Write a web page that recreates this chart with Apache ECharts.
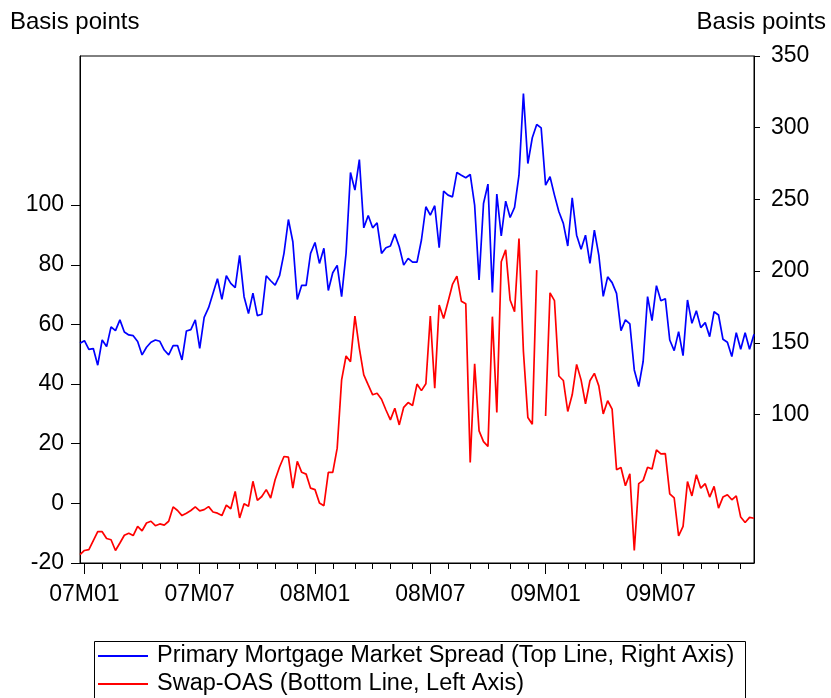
<!DOCTYPE html>
<html>
<head>
<meta charset="utf-8">
<script src="https://cdn.jsdelivr.net/npm/echarts@6/dist/echarts.min.js"></script>
<style>
  html, body { margin: 0; padding: 0; background: #fff; }
  #chart { width: 831px; height: 698px; }
</style>
</head>
<body>
<div id="chart"></div>
<script>
// weekly observations, first one is the last Friday of 2006
var startDate = Date.UTC(2006, 11, 29);
var weekCount = 153;

// Primary mortgage market spread (right axis, basis points)
var spreadValues = [149.7,151.5,145.5,146.0,134.4,152.0,147.4,161.1,158.5,166.0,
157.6,155.5,155.0,150.9,141.6,146.9,150.4,152.0,151.1,145.0,
141.6,148.1,148.1,138.1,158.3,159.2,166.0,146.2,167.8,174.5,
184.5,194.7,180.3,196.8,191.5,188.5,211.0,182.2,170.4,184.7,
169.0,169.9,196.8,193.3,190.3,196.8,212.4,236.0,220.5,180.3,
190.1,190.1,212.4,220.0,205.4,215.9,186.5,198.9,204.0,182.2,
212.4,268.8,256.5,277.8,230.2,238.8,230.2,233.7,212.4,216.3,
217.5,225.8,217.0,204.2,208.9,206.3,206.3,221.7,244.9,239.1,
245.6,216.3,255.8,253.0,251.8,268.8,266.9,265.1,267.4,246.0,
193.8,247.2,260.7,185.2,253.7,224.5,248.8,237.4,244.4,266.9,
323.8,275.0,293.0,302.2,299.9,260.0,265.8,253.0,241.4,233.3,
217.5,251.1,225.1,215.2,225.1,205.4,228.6,211.2,182.4,196.0,
192.0,184.5,158.5,166.0,163.2,131.1,119.5,137.0,182.2,165.5,
189.9,179.4,180.8,152.0,144.6,157.8,141.1,179.9,163.6,172.4,
160.6,164.1,154.3,171.7,169.4,152.5,150.4,140.4,157.1,145.5,
157.1,145.5,156.0];

// Swap-OAS (left axis, basis points), null = missing week
var oasValues = [-17.2,-15.8,-15.5,-12.5,-9.5,-9.5,-11.8,-12.2,-15.8,-13.3,
-10.7,-10.0,-10.8,-7.7,-9.2,-6.6,-6.0,-7.5,-6.9,-7.3,
-6.0,-1.2,-2.4,-4.1,-3.3,-2.4,-1.2,-2.5,-2.1,-1.1,
-2.9,-3.3,-4.1,-0.6,-1.8,4.0,-4.9,-0.1,-1.0,7.4,
1.0,2.3,4.6,1.8,7.9,12.2,15.7,15.5,5.1,14.1,
10.4,9.8,5.1,4.6,0.1,-0.8,10.4,10.4,18.5,41.4,
49.4,47.5,62.8,52.0,43.1,39.7,36.4,36.9,34.9,31.3,
28.0,31.9,26.3,32.2,33.8,32.8,40.0,37.8,40.1,62.8,
38.6,66.5,62.0,67.6,73.4,76.2,67.8,66.9,13.7,46.8,
24.3,20.7,19.1,62.6,30.5,81.0,85.0,68.2,64.3,88.8,
50.9,28.8,26.5,78.2,null,29.3,70.6,68.0,42.7,41.2,
30.8,36.4,46.6,41.4,33.4,41.1,43.6,39.4,30.0,34.4,
31.6,11.3,12.0,5.9,9.9,-15.8,6.6,7.7,12.1,11.5,
17.9,16.6,16.7,3.2,1.8,-10.9,-7.7,7.3,2.5,9.6,
5.1,6.6,2.1,5.7,-1.6,2.1,2.9,1.2,2.5,-4.6,
-6.4,-4.7,-5.0];

var leftTicks = [-20, 0, 20, 40, 60, 80, 100];
var rightTicks = [100, 150, 200, 250, 300, 350];
var seriesNames = ['Primary Mortgage Market Spread (Top Line, Right Axis)', 'Swap-OAS (Bottom Line, Left Axis)'];

var weeks = [];
for (var i = 0; i < weekCount; i++) {
    weeks.push(new Date(startDate + i * 7 * 86400000));
}
var categories = weeks.map(function(d) {
    return d.toISOString().slice(0, 10);
});

// first week of a month -> minor tick, first week of Jan / Jul -> label
var isMonthStart = function(idx) {
    return weeks[idx].getUTCDate() <= 7;
};
var isHalfYear = function(idx) {
    var m = weeks[idx].getUTCMonth();
    return isMonthStart(idx) && (m === 0 || m === 6);
};

var fontFam = '"Liberation Sans", Arial, sans-serif';
var myChart = echarts.init(document.getElementById('chart'), null, { renderer: 'canvas' });

// one legend per row, the box around them is drawn as a graphic
var legendRow = function(name, top) {
    return {
        orient: 'horizontal',
        left: 98, top: top,
        padding: 0,
        itemWidth: 50,
        itemHeight: 2,
        icon: 'rect',
        textStyle: { fontSize: 23.5, fontFamily: fontFam, color: '#000', padding: [0, 0, 0, 4] },
        data: [name]
    };
};

var option = {
    backgroundColor: '#fff',
    animation: false,
    textStyle: { fontFamily: fontFam, color: '#000' },
    grid: {
        left: 80, right: 77, top: 56, bottom: 135,
        show: true, borderColor: '#000', borderWidth: 1,
        containLabel: false
    },
    graphic: [{
        type: 'text', left: 10, top: 10,
        style: { text: 'Basis points', fontSize: 24, fontFamily: fontFam, fill: '#000' }
    }, {
        type: 'text', right: 5, top: 10,
        style: { text: 'Basis points', fontSize: 24, fontFamily: fontFam, fill: '#000' }
    }, {
        type: 'rect',
        shape: { x: 94.5, y: 641.5, width: 651, height: 80 },
        style: { fill: null, stroke: '#000', lineWidth: 1 }
    }],
    legend: [legendRow(seriesNames[0], 644), legendRow(seriesNames[1], 672)],
    xAxis: [{
        type: 'category',
        data: categories,
        boundaryGap: false,
        axisLine: { onZero: false, lineStyle: { color: '#000', width: 1 } },
        axisTick: { interval: isMonthStart, length: 6, lineStyle: { color: '#000' } },
        axisLabel: { show: false }
    }, {
        // second axis only for the longer half-year ticks and labels
        type: 'category',
        data: categories,
        boundaryGap: false,
        position: 'bottom',
        axisLine: { show: false, onZero: false },
        axisTick: { interval: isHalfYear, length: 11, lineStyle: { color: '#000' } },
        axisLabel: {
            interval: isHalfYear,
            margin: 20,
            fontSize: 23,
            fontFamily: fontFam,
            color: '#000',
            formatter: function(val) {
                return val.slice(2, 4) + 'M' + val.slice(5, 7);
            }
        }
    }],
    yAxis: [{
        type: 'value',
        position: 'left',
        min: -20,
        max: 150,
        splitLine: { show: false },
        axisLine: { show: true, lineStyle: { color: '#000' } },
        axisTick: { show: true, length: 9, customValues: leftTicks, lineStyle: { color: '#000' } },
        axisLabel: { customValues: leftTicks, fontSize: 23, fontFamily: fontFam, color: '#000', margin: 16 }
    }, {
        type: 'value',
        position: 'right',
        min: -3.5,
        max: 350,
        splitLine: { show: false },
        axisLine: { show: true, lineStyle: { color: '#000' } },
        axisTick: { show: true, length: 6, customValues: rightTicks, lineStyle: { color: '#000' } },
        axisLabel: { customValues: rightTicks, fontSize: 23, fontFamily: fontFam, color: '#000', margin: 17 }
    }],
    series: [{
        name: seriesNames[0],
        type: 'line',
        xAxisIndex: 0,
        yAxisIndex: 1,
        data: spreadValues,
        symbol: 'none',
        lineStyle: { color: '#0000ff', width: 1.7 },
        itemStyle: { color: '#0000ff' }
    }, {
        name: seriesNames[1],
        type: 'line',
        xAxisIndex: 0,
        yAxisIndex: 0,
        data: oasValues,
        symbol: 'none',
        connectNulls: false,
        lineStyle: { color: '#ff0000', width: 1.7 },
        itemStyle: { color: '#ff0000' }
    }]
};

myChart.setOption(option);
</script>
</body>
</html>
